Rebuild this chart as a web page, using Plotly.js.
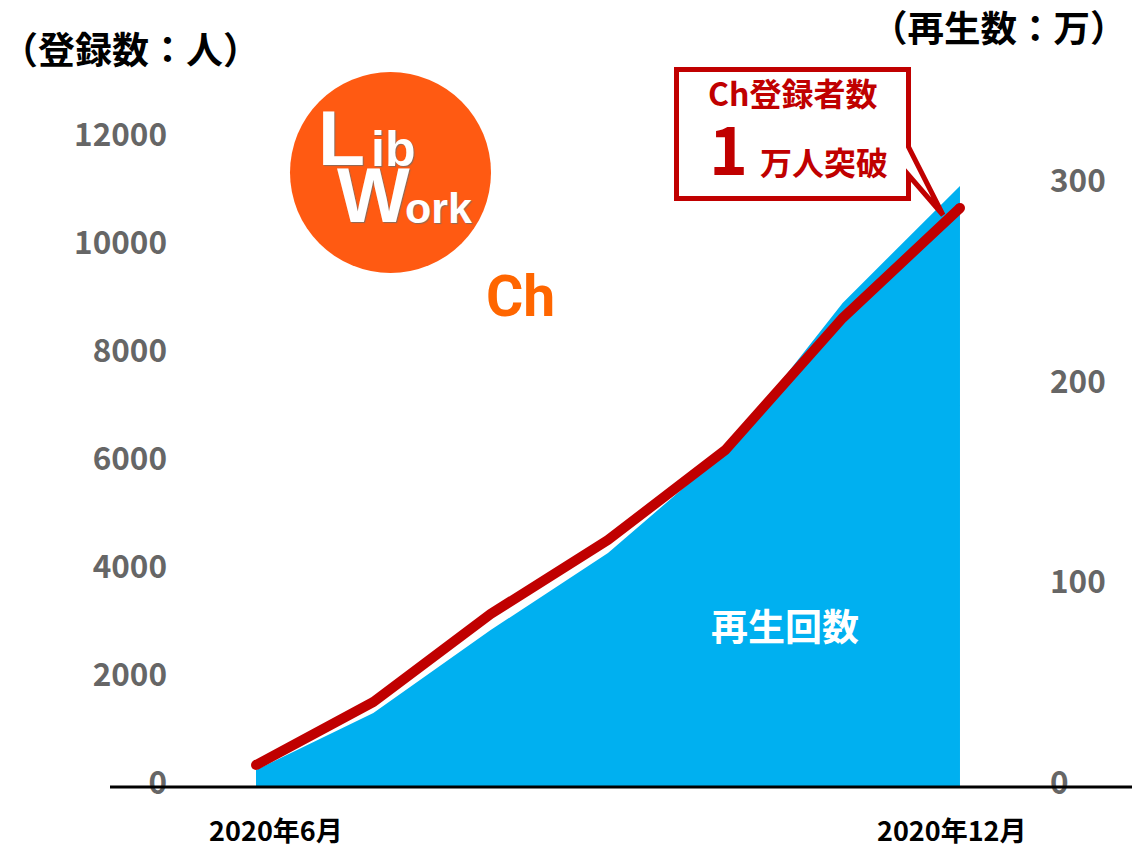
<!DOCTYPE html>
<html><head><meta charset="utf-8">
<script src="https://cdn.plot.ly/plotly-3.0.1.min.js"></script>
<style>html,body{margin:0;padding:0;background:#fff}#c{width:1132px;height:845px}</style></head>
<body><div id="c"></div>
<script>
const months=[6,7,8,9,10,11,12];
const subscribers=[407,1574,3204,4574,6241,8685,10722];
const plays=[8.5,36.9,78.2,116.6,166.9,241.2,299.5];
const leftTicks=[0,2000,4000,6000,8000,10000,12000];
const rightTicks=[0,100,200,300];
const monthTickVals=[6.17,11.93];
const monthTickText=['2020年6月','2020年12月'];
const W=1132,H=845,L=172,R=1048,T=100,B=787;
const CJK='"Noto Sans CJK JP","Noto Sans",sans-serif';
const px=x=>(x-L)/(R-L), py=y=>(B-y)/(B-T);
const xa=m=>6+(m-256)/117.33;
function pathOf(pts){return 'M'+pts.map(p=>px(p[0])+','+py(p[1])).join(' L')+' Z';}
function note(text,x,y,size,color,extra){return Object.assign({text:text,xref:'paper',yref:'paper',x:px(x),y:py(y),xanchor:'center',yanchor:'middle',showarrow:false,font:{family:CJK,size:size,color:color,weight:700}},extra||{});}
const logoFont='"Liberation Sans",sans-serif';
const logoShadow='1px 1px 1px #8a6a5a';
function logo(text,x,y,size){return note(text,x,y,size,'#fff',{font:{family:logoFont,size:size,color:'#fff',weight:700,shadow:logoShadow}});}
const traces=[
 {x:months,y:plays,type:'scatter',mode:'lines',fill:'tozeroy',fillcolor:'#00B0F0',line:{color:'#00B0F0',width:0},name:'再生回数'},
 {x:months,y:subscribers,yaxis:'y2',type:'scatter',mode:'lines+markers',line:{color:'#C00000',width:10},marker:{color:'#C00000',opacity:1,size:[10,0,0,0,0,0,10],line:{width:0}},name:'Ch登録者数'}
];
const tickFont={family:CJK,size:31.5,color:'#666666',weight:700};
const layout={
 width:W,height:H,paper_bgcolor:'#fff',plot_bgcolor:'rgba(0,0,0,0)',showlegend:false,
 margin:{l:L,r:W-R,t:T,b:H-B,pad:0},
 xaxis:{range:[xa(L),xa(R)],tickmode:'array',tickvals:monthTickVals,ticktext:monthTickText,showgrid:false,zeroline:false,showline:false,ticks:'',tickfont:{family:CJK,size:27,color:'#000',weight:700},ticklabelstandoff:26,automargin:false},
 yaxis2:{overlaying:'y',side:'left',range:[0,(B-T)/0.054],tickmode:'array',tickvals:leftTicks,showgrid:false,zeroline:false,showline:false,ticks:'',tickfont:tickFont,ticklabelshift:-4,ticklabelstandoff:4,tickformat:'d',automargin:false},
 yaxis:{side:'right',range:[0,(B-T)/2.007],tickmode:'array',tickvals:rightTicks,showgrid:false,zeroline:false,showline:false,ticks:'',tickfont:tickFont,ticklabelshift:-4,ticklabelstandoff:1,tickformat:'d',automargin:false},
 shapes:[
  {type:'line',xref:'paper',yref:'paper',x0:px(110),x1:px(1132),y0:py(787),y1:py(787),line:{color:'#000',width:3},layer:'above'},
  {type:'circle',xref:'paper',yref:'paper',x0:px(290),x1:px(491),y0:py(273),y1:py(72),fillcolor:'#FF5A12',line:{width:0},layer:'above'},
  {type:'path',xref:'paper',yref:'paper',path:pathOf([[676.5,69.5],[908.5,69.5],[908.5,147],[943,215],[908.5,175],[908.5,198.5],[676.5,198.5]]),fillcolor:'#fff',line:{color:'#C00000',width:5},layer:'above'}
 ],
 annotations:[
  note('（登録数：人）',130,48,37,'#000'),
  note('（再生数：万）',999,27,36.5,'#000'),
  note('Ch登録者数',792,92,32,'#C00000'),
  note('1',728,146,66,'#C00000'),
  note('万人突破',824,161,32,'#C00000'),
  note('再生回数',785,625,37,'#fff'),
  note('Ch',520,296,52,'#FF6600',{font:{family:'Roboto,sans-serif',size:57,color:'#FF6600',weight:700}}),
  logo('L',341,138,77),
  logo('ib',393,149,50),
  logo('W',373,195,77),
  logo('ork',438,208,43)
 ]
};
Plotly.newPlot('c',traces,layout,{displayModeBar:false,staticPlot:true});
</script></body></html>
